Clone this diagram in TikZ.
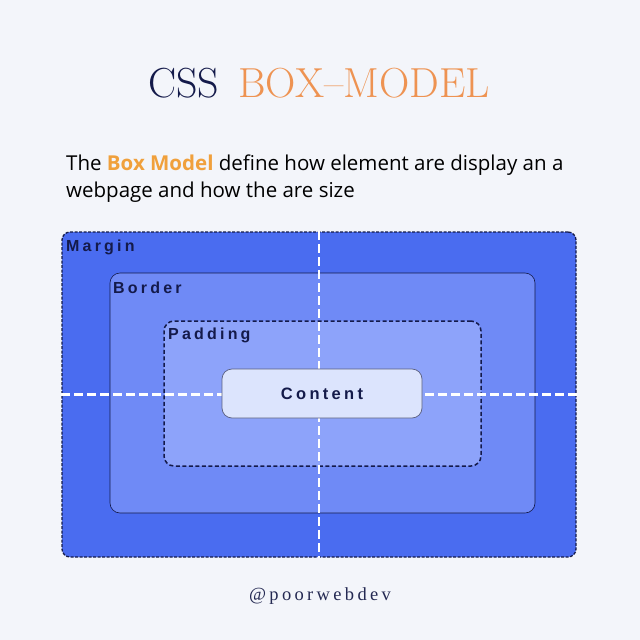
\documentclass[tikz,border=0pt]{standalone}
\usepackage{fontspec}
\newfontfamily\subfont{Open Sans}
\newfontfamily\labelfont[LetterSpace=20]{Liberation Sans}
\newfontfamily\handlefont[LetterSpace=18]{Liberation Serif}
\usetikzlibrary{positioning}
\definecolor{bgcol}{HTML}{F3F5FA}
\definecolor{navy}{HTML}{141A4A}
\definecolor{titleorange}{HTML}{EE9352}
\definecolor{boxorange}{HTML}{F0A03C}
\definecolor{marginblue}{HTML}{4A6CF0}
\definecolor{borderblue}{HTML}{6F8AF6}
\definecolor{paddingblue}{HTML}{8DA3FA}
\definecolor{contentblue}{HTML}{DCE4FD}

\begin{document}
\begin{tikzpicture}[x=1pt, y=-1pt,
  layer/.style={inner sep=0pt, rounded corners=#1},
  layer/.default=10pt,
  guide/.style={white, line width=2.2pt, dash pattern=on 9pt off 4pt},
  boxlabel/.style={inner sep=0pt, text=navy, font=\labelfont\bfseries\fontsize{16}{18}\selectfont},
  subtext/.style={inner sep=0pt, font=\subfont\fontsize{20.5}{24}\selectfont}]

    \fill[bgcol] (0,0) rectangle (640,640);
    \useasboundingbox (0,0) rectangle (640,640);

    % title
    \node[inner sep=0pt, anchor=base] (title) at (319,97)
      {\fontsize{42}{44}\selectfont\addfontfeatures{LetterSpace=7}\textcolor{navy}{CSS}\hspace{19pt}\textcolor{titleorange}{BOX–MODEL}};

    \node[subtext, anchor=base west] (line1) at (66,170)
      {The \textcolor{boxorange}{\bfseries Box Model} define how element are display an a};
    \node[subtext, anchor=base west] (line2) at (66,197) {webpage and how the are size};

    % the nested boxes
    \node[layer=8pt, fill=marginblue, draw=navy, line width=1.3pt, dash pattern=on 3pt off 1.5pt,
      minimum width=514, minimum height=325] (margin) at (319,394.5) {};
    \node[layer, fill=borderblue, draw=navy, line width=0.6pt,
      minimum width=425, minimum height=240] (border) at (322.5,393) {};
    \node[layer, fill=paddingblue, draw=navy, line width=1.5pt, dash pattern=on 4pt off 2.5pt,
      minimum width=317, minimum height=145] (padding) at (322.5,393.5) {};

    \draw[guide] (margin.north) -- (margin.south);
    \draw[guide] (margin.west) -- (margin.east);

    \node[layer, fill=contentblue, draw=navy!70, line width=0.7pt,
      minimum width=200, minimum height=49] (content) at (322,393.5) {};

    \node[boxlabel, anchor=base west] (marginlabel) at (66,251) {Margin};
    \node[boxlabel, anchor=base west] (borderlabel) at (113,293) {Border};
    \node[boxlabel, anchor=base west] (paddinglabel) at (168,339) {Padding};
    \node[boxlabel, font=\labelfont\bfseries\fontsize{16.5}{18}\selectfont] (contentlabel) at (content) {Content};

    \node[inner sep=0pt, anchor=base, text=navy!85!gray] (handle) at (320,600)
      {\handlefont\fontsize{18.5}{20}\selectfont @poorwebdev};

\end{tikzpicture}
\end{document}
